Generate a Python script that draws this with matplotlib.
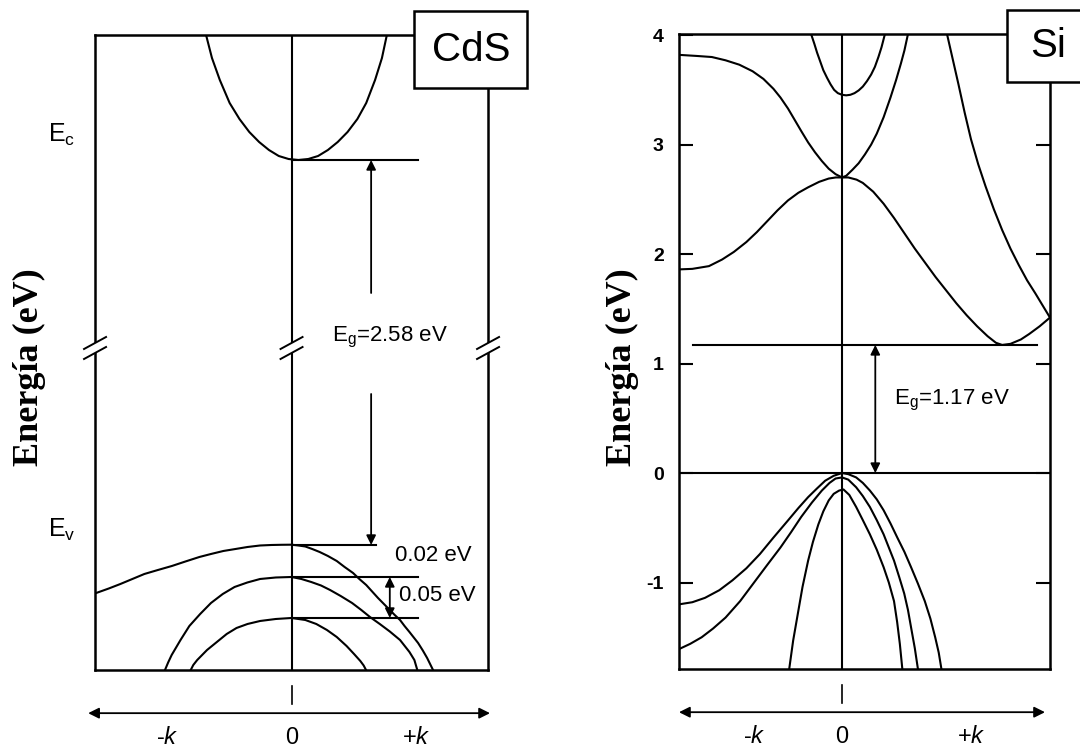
import matplotlib.pyplot as plt
from matplotlib.patches import Rectangle

plt.rcParams['font.family'] = ['Liberation Sans', 'DejaVu Sans']
plt.rcParams['mathtext.fontset'] = 'custom'
plt.rcParams['mathtext.rm'] = 'Liberation Sans'
plt.rcParams['mathtext.it'] = 'Liberation Sans:italic'
plt.rcParams['axes.unicode_minus'] = False

# ---- CdS: esquema de bandas (energía en unidades arbitrarias, eje roto) ----
cds_cb_k = [-0.435, -0.405, -0.365, -0.315, -0.265, -0.215, -0.165, -0.115, -0.065, -0.015, 0.035,
            0.085, 0.135, 0.185, 0.235, 0.285, 0.335, 0.38, 0.425, 0.46, 0.485]
cds_cb_E = [6.35, 6.12, 5.90, 5.67, 5.51, 5.38, 5.28, 5.20, 5.14, 5.11, 5.10,
            5.11, 5.14, 5.20, 5.28, 5.38, 5.51, 5.67, 5.90, 6.12, 6.35]

cds_va_k = [-0.994, -0.93, -0.871, -0.81, -0.749, -0.68, -0.609, -0.54, -0.469, -0.41, -0.347,
            -0.285, -0.224, -0.16, -0.102, -0.05, 0.0,
            0.035, 0.07, 0.105, 0.143, 0.185, 0.23, 0.27, 0.313, 0.345, 0.38, 0.41, 0.44,
            0.47, 0.50, 0.525, 0.552, 0.575, 0.60, 0.622, 0.644, 0.668, 0.69, 0.705, 0.72]
cds_va_E = [0.77, 0.815, 0.86, 0.91, 0.96, 1.00, 1.04, 1.085, 1.13, 1.16, 1.19,
            1.21, 1.23, 1.245, 1.25, 1.252, 1.253,
            1.245, 1.235, 1.21, 1.18, 1.14, 1.09, 1.03, 0.97, 0.91, 0.85, 0.785, 0.72,
            0.66, 0.60, 0.55, 0.50, 0.44, 0.38, 0.325, 0.27, 0.195, 0.12, 0.06, 0.0]

cds_vb_k = [-0.644, -0.628, -0.61, -0.565, -0.52, -0.465, -0.41, -0.35, -0.29, -0.225, -0.16,
            -0.08, 0.0, 0.05, 0.1, 0.15, 0.196, 0.25, 0.308, 0.355, 0.399, 0.449, 0.50,
            0.552, 0.60, 0.625, 0.64]
cds_vb_E = [0.0, 0.075, 0.15, 0.30, 0.44, 0.56, 0.67, 0.76, 0.83, 0.875, 0.91,
            0.925, 0.93, 0.91, 0.88, 0.845, 0.80, 0.74, 0.67, 0.60, 0.53, 0.46, 0.385,
            0.30, 0.18, 0.10, 0.0]

cds_vc_k = [-0.513, -0.50, -0.48, -0.43, -0.38, -0.33, -0.28, -0.224, -0.16, -0.08, 0.0,
            0.07, 0.126, 0.18, 0.23, 0.28, 0.318, 0.35, 0.367, 0.379]
cds_vc_E = [0.0, 0.05, 0.10, 0.20, 0.28, 0.36, 0.42, 0.46, 0.49, 0.51, 0.52,
            0.50, 0.46, 0.40, 0.33, 0.24, 0.16, 0.09, 0.045, 0.0]

cds_Ec = 5.10
cds_Ev = [1.25, 0.93, 0.52]
cds_breaks = [-1.0, 0.0, 1.0]
cds_break_E = 3.22

# ---- Si: bandas (eV) ----
si_c1_k = [-0.786, -0.72, -0.64, -0.577, -0.52, -0.46, -0.41, -0.36, -0.31, -0.26, -0.21,
           -0.163, -0.11, -0.064, -0.03, 0.0,
           0.03, 0.07, 0.10, 0.15, 0.20, 0.25, 0.30, 0.35, 0.40, 0.45, 0.50, 0.55, 0.60,
           0.65, 0.70, 0.74, 0.77, 0.81, 0.86, 0.90, 0.95, 1.0]
si_c1_E = [1.86, 1.865, 1.89, 1.95, 2.02, 2.11, 2.20, 2.30, 2.40, 2.49, 2.56,
           2.61, 2.66, 2.69, 2.70, 2.70,
           2.70, 2.68, 2.65, 2.57, 2.46, 2.33, 2.19, 2.05, 1.92, 1.79, 1.67, 1.55, 1.44,
           1.34, 1.25, 1.19, 1.17, 1.18, 1.22, 1.27, 1.34, 1.42]

si_c2_k = [-0.786, -0.70, -0.626, -0.56, -0.494, -0.43, -0.378, -0.33, -0.296, -0.26, -0.229,
           -0.195, -0.163, -0.13, -0.097, -0.064, -0.031, 0.0,
           0.02, 0.05, 0.08, 0.11, 0.14, 0.167, 0.20, 0.233, 0.26, 0.283, 0.30, 0.316]
si_c2_E = [3.82, 3.81, 3.80, 3.77, 3.73, 3.67, 3.60, 3.51, 3.43, 3.33, 3.23,
           3.12, 3.02, 2.93, 2.85, 2.78, 2.73, 2.70,
           2.715, 2.77, 2.83, 2.91, 3.00, 3.10, 3.25, 3.43, 3.59, 3.74, 3.86, 4.0]

si_c3_k = [-0.147, -0.133, -0.12, -0.105, -0.09, -0.072, -0.055, -0.038, -0.02, 0.0, 0.02,
           0.04, 0.06, 0.08, 0.10, 0.12, 0.14, 0.158, 0.175, 0.19, 0.205]
si_c3_E = [4.0, 3.92, 3.84, 3.76, 3.68, 3.61, 3.55, 3.50, 3.47, 3.455, 3.45,
           3.455, 3.47, 3.495, 3.53, 3.58, 3.64, 3.71, 3.80, 3.89, 4.0]

si_c4_k = [0.506, 0.53, 0.56, 0.59, 0.62, 0.655, 0.69, 0.73, 0.77, 0.81, 0.85, 0.89,
           0.93, 0.965, 1.0]
si_c4_E = [4.0, 3.80, 3.55, 3.29, 3.05, 2.82, 2.62, 2.41, 2.22, 2.05, 1.90, 1.76,
           1.64, 1.53, 1.42]

si_v1_k = [-0.786, -0.72, -0.659, -0.59, -0.527, -0.46, -0.395, -0.33, -0.263, -0.21, -0.163,
           -0.12, -0.081, -0.04, 0.0,
           0.03, 0.068, 0.10, 0.134, 0.167, 0.20, 0.233, 0.266, 0.30, 0.332, 0.365, 0.398,
           0.425, 0.448, 0.465, 0.478]
si_v1_E = [-1.20, -1.18, -1.14, -1.07, -0.98, -0.87, -0.74, -0.59, -0.44, -0.32, -0.22,
           -0.14, -0.07, -0.025, 0.0,
           -0.01, -0.04, -0.09, -0.16, -0.24, -0.34, -0.46, -0.59, -0.72, -0.86, -1.01, -1.17,
           -1.33, -1.50, -1.64, -1.79]

si_v2_k = [-0.786, -0.73, -0.675, -0.62, -0.56, -0.49, -0.427, -0.36, -0.296, -0.245, -0.196,
           -0.145, -0.097, -0.06, -0.031, 0.0,
           0.03, 0.068, 0.10, 0.134, 0.167, 0.20, 0.225, 0.25, 0.275, 0.299, 0.317, 0.332,
           0.35, 0.365]
si_v2_E = [-1.61, -1.56, -1.50, -1.42, -1.32, -1.17, -1.01, -0.84, -0.68, -0.54, -0.40,
           -0.27, -0.16, -0.09, -0.05, -0.04,
           -0.06, -0.13, -0.21, -0.31, -0.43, -0.56, -0.68, -0.80, -0.95, -1.10, -1.25, -1.41,
           -1.60, -1.79]

si_v3_k = [-0.254, -0.235, -0.213, -0.19, -0.163, -0.14, -0.114, -0.09, -0.064, -0.04, -0.014,
           0.007, 0.035, 0.068, 0.10, 0.134, 0.167, 0.20, 0.225, 0.25, 0.265, 0.278, 0.29]
si_v3_E = [-1.79, -1.53, -1.29, -1.04, -0.80, -0.63, -0.47, -0.35, -0.25, -0.19, -0.16,
           -0.15, -0.20, -0.31, -0.43, -0.56, -0.70, -0.86, -1.00, -1.17, -1.36, -1.56, -1.79]

si_Eg = 1.17
si_yticks = [-1, 0, 1, 2, 3, 4]

k_labels = ['-$k$', '0', '+$k$']
cds_k_pos = [-0.63, 0.0, 0.634]
si_k_pos = [-0.42, 0.0, 0.62]

LW = 1.5
fig = plt.figure(figsize=(10.8, 7.48), dpi=100)


def k_axis(ax, x0, x1, pos):
    tr = ax.get_xaxis_transform()
    ax.annotate('', xy=(x1, -0.068), xytext=(x0, -0.068), xycoords=tr, textcoords=tr,
                arrowprops=dict(arrowstyle='<|-|>', color='k', lw=1.3, shrinkA=0, shrinkB=0,
                                mutation_scale=16), annotation_clip=False)
    ax.plot([0, 0], [-0.025, -0.053], transform=tr, color='k', lw=1.2, clip_on=False)
    for x, s in zip(pos, k_labels):
        ax.text(x, -0.107, s, transform=tr, ha='center', va='center', fontsize=17)


def arrow(ax, k, e0, e1, style='-|>'):
    ax.annotate('', xy=(k, e1), xytext=(k, e0),
                arrowprops=dict(arrowstyle=style, color='k', lw=1.3, shrinkA=0, shrinkB=0,
                                mutation_scale=14))


def label_box(ax, x0, y0, w, h, text, tx, ty):
    ax.add_patch(Rectangle((x0, y0), w, h, transform=ax.transAxes, fc='white', ec='k',
                           lw=1.8, clip_on=False, zorder=6))
    ax.text(tx, ty, text, transform=ax.transAxes, ha='center', va='center',
            fontsize=29, zorder=7)


# ---------------- CdS ----------------
ax1 = fig.add_axes([0.0880, 0.1043, 0.3639, 0.8489])
ax1.set_xlim(-1, 1)
ax1.set_ylim(0, 6.35)
ax1.set_xticks([])
ax1.set_yticks([])
for sp in ax1.spines.values():
    sp.set_linewidth(1.8)

for kk, ee in [(cds_cb_k, cds_cb_E), (cds_va_k, cds_va_E), (cds_vb_k, cds_vb_E), (cds_vc_k, cds_vc_E)]:
    ax1.plot(kk, ee, color='k', lw=LW)
ax1.axvline(0, color='k', lw=LW)

ax1.plot([0, 0.644], [cds_Ec, cds_Ec], color='k', lw=LW)
ax1.plot([0, 0.43], [cds_Ev[0], cds_Ev[0]], color='k', lw=LW)
ax1.plot([0, 0.644], [cds_Ev[1], cds_Ev[1]], color='k', lw=LW)
ax1.plot([0, 0.644], [cds_Ev[2], cds_Ev[2]], color='k', lw=LW)

arrow(ax1, 0.405, 3.77, cds_Ec)
arrow(ax1, 0.405, 2.76, cds_Ev[0])
arrow(ax1, 0.50, cds_Ev[1], cds_Ev[2], '<|-|>')

# cortes del eje de energía
for kb in cds_breaks:
    ax1.plot([kb, kb], [cds_break_E - 0.05, cds_break_E + 0.05], color='white', lw=6,
             solid_capstyle='butt', clip_on=False, zorder=4)
    for s in (-0.05, 0.05):
        ax1.plot([kb - 0.056, kb + 0.056], [cds_break_E + s - 0.06, cds_break_E + s + 0.06],
                 color='k', lw=1.4, clip_on=False, zorder=5)

ax1.text(0.206, 3.33, r'E$_\mathregular{g}$=2.58 eV', fontsize=16, va='center')
ax1.text(0.527, 1.14, '0.02 eV', fontsize=16, va='center')
ax1.text(0.547, 0.74, '0.05 eV', fontsize=16, va='center')
ax1.text(-1.168, 5.35, r'E$_\mathregular{c}$', fontsize=18, ha='center', va='center', clip_on=False)
ax1.text(-1.168, 1.40, r'E$_\mathregular{v}$', fontsize=18, ha='center', va='center', clip_on=False)

label_box(ax1, 0.812, 0.9165, 0.287, 0.1213, 'CdS', 0.956, 0.976)
k_axis(ax1, -1.035, 1.01, cds_k_pos)

# ---------------- Si ----------------
ax2 = fig.add_axes([0.6287, 0.1056, 0.3435, 0.8489])
ax2.set_xlim(-0.784, 1.0)
ax2.set_ylim(-1.79, 4.01)
ax2.set_xticks([])
ax2.set_yticks(si_yticks)
ax2.tick_params(axis='y', direction='in', length=10, width=1.5, right=True,
                labelsize=14, pad=11)
for lab in ax2.get_yticklabels():
    lab.set_fontweight('bold')
for sp in ax2.spines.values():
    sp.set_linewidth(1.8)

for kk, ee in [(si_c1_k, si_c1_E), (si_c2_k, si_c2_E), (si_c3_k, si_c3_E), (si_c4_k, si_c4_E),
               (si_v1_k, si_v1_E), (si_v2_k, si_v2_E), (si_v3_k, si_v3_E)]:
    ax2.plot(kk, ee, color='k', lw=LW)
ax2.axvline(0, color='k', lw=LW)
ax2.axhline(0, color='k', lw=LW)
ax2.plot([-0.716, 0.936], [si_Eg, si_Eg], color='k', lw=LW)

arrow(ax2, 0.16, 0, si_Eg, '<|-|>')
ax2.text(0.25, 0.66, r'E$_\mathregular{g}$=1.17 eV', fontsize=16, va='center')

label_box(ax2, 0.884, 0.924, 0.5, 0.114, 'Si', 0.996, 0.981)
k_axis(ax2, -0.784, 0.976, si_k_pos)

for x in (0.027, 0.576):
    fig.text(x, 1 - 367 / 748, 'Energía (eV)', rotation=90, ha='center', va='center',
             fontsize=26, fontweight='bold', family=['Liberation Serif', 'DejaVu Serif'])

fig.savefig('out.png', dpi=100)
